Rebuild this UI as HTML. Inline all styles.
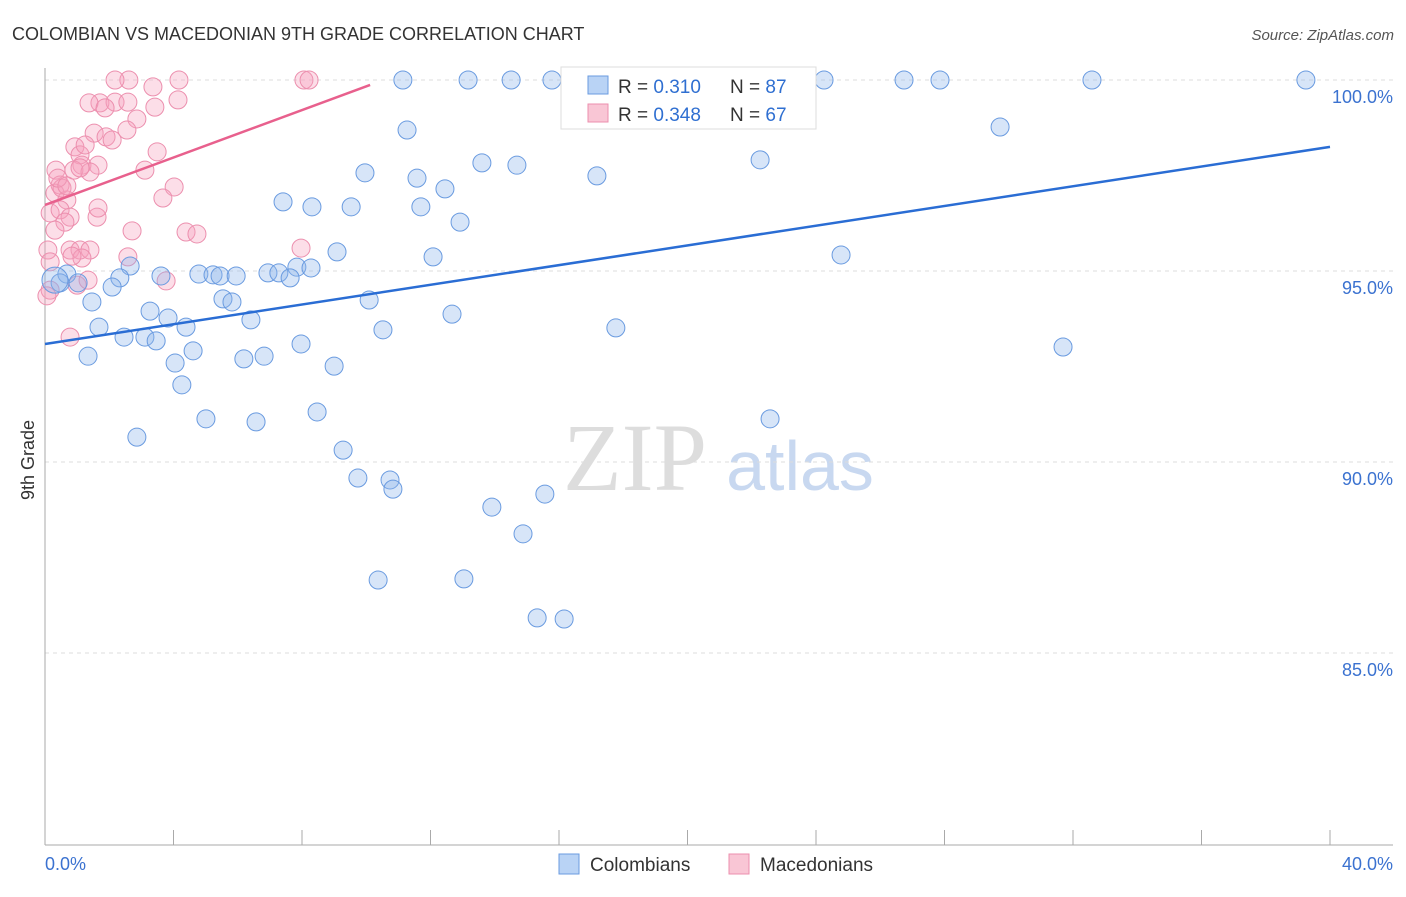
<!DOCTYPE html>
<html><head><meta charset="utf-8"><style>
body{margin:0;background:#fff;font-family:"Liberation Sans",sans-serif}
</style></head><body>
<svg width="1406" height="892" xmlns="http://www.w3.org/2000/svg">
<text x="12" y="40" font-size="18" fill="#333">COLOMBIAN VS MACEDONIAN 9TH GRADE CORRELATION CHART</text>
<text x="1394" y="40" font-size="15" fill="#555" text-anchor="end" font-style="italic">Source: ZipAtlas.com</text>
<text x="635" y="490" font-size="96" fill="#ddd" font-family="Liberation Serif,serif" text-anchor="middle">ZIP</text>
<text x="800" y="490" font-size="70" fill="#c8d8f0" text-anchor="middle">atlas</text>
<g id="grid"></g><g id="axes"></g><g id="pts"></g><g id="lines"></g>
<text x="34" y="460" font-size="18" fill="#333" transform="rotate(-90 34 460)" text-anchor="middle">9th Grade</text>
<g>
<rect x="561" y="67" width="255" height="62" fill="#fff" stroke="#ddd"/>
<rect x="588" y="76" width="20" height="18" fill="#b9d3f5" stroke="#6a9be0"/>
<rect x="588" y="104" width="20" height="18" fill="#f9c6d5" stroke="#ec8fae"/>
<text x="618" y="93" font-size="19" fill="#333">R = <tspan fill="#2f6fd1">0.310</tspan></text>
<text x="730" y="93" font-size="19" fill="#333">N = <tspan fill="#2f6fd1">87</tspan></text>
<text x="618" y="121" font-size="19" fill="#333">R = <tspan fill="#2f6fd1">0.348</tspan></text>
<text x="730" y="121" font-size="19" fill="#333">N = <tspan fill="#2f6fd1">67</tspan></text>
</g>
<g>
<rect x="559" y="854" width="20" height="20" fill="#b9d3f5" stroke="#6a9be0"/>
<text x="590" y="871" font-size="19" fill="#333">Colombians</text>
<rect x="729" y="854" width="20" height="20" fill="#f9c6d5" stroke="#ec8fae"/>
<text x="760" y="871" font-size="19" fill="#333">Macedonians</text>
</g>
</svg>
<script>
const blueX=[11.14,13.17,14.51,15.78,19.52,24.25,26.74,27.86,32.59,39.25,11.27,29.73,22.26,13.60,14.69,9.96,11.58,17.18,12.45,7.41,8.31,9.53,11.70,12.92,9.09,12.08,24.78,2.65,7.84,8.28,4.79,3.61,5.23,5.45,5.95,6.94,7.28,7.63,2.33,2.09,0.68,0.47,1.03,0.31,1.46,5.54,5.82,10.09,3.27,3.83,6.41,12.67,1.68,4.39,10.52,17.77,2.46,3.11,3.46,4.61,7.97,1.34,4.05,6.19,6.82,9.00,31.69,4.26,8.47,5.01,6.57,22.57,2.86,9.28,9.74,10.74,10.83,15.56,13.91,14.88,10.37,13.04,15.32,16.16];
const blueY=[100,100,100,100,100,100,100,100,100,100,98.69,98.77,97.91,97.83,97.77,97.57,97.43,97.49,97.15,96.81,96.68,96.68,96.68,96.28,95.50,95.37,95.42,95.13,95.10,95.08,94.92,94.87,94.90,94.87,94.87,94.95,94.95,94.82,94.82,94.58,94.92,94.69,94.69,94.76,94.19,94.27,94.19,94.24,93.95,93.77,93.72,93.87,93.53,93.53,93.46,93.51,93.27,93.27,93.17,92.91,93.09,92.77,92.59,92.70,92.77,92.51,93.01,92.02,91.31,91.13,91.05,91.13,90.65,90.31,89.58,89.53,89.29,89.16,88.82,88.12,86.91,86.94,85.92,85.89];
const pinkX=[2.61,3.36,4.17,8.06,8.22,2.18,1.71,1.37,2.18,1.87,3.42,4.14,2.86,1.53,1.90,2.55,2.09,3.49,0.93,1.09,1.25,1.15,0.90,1.65,1.40,1.09,3.11,0.34,0.47,0.31,0.68,4.02,3.67,0.16,0.47,0.78,0.62,1.62,1.65,4.39,4.73,2.71,0.09,0.78,1.09,1.40,2.58,1.15,7.97,0.84,0.16,3.77,1.00,1.34,0.16,0.06,0.78,0.53,0.40,0.68,0.31,2.58];
const pinkY=[100,99.82,100,100,100,100,99.40,99.40,99.42,99.27,99.29,99.48,98.98,98.61,98.51,98.69,98.43,98.12,98.25,98.04,98.30,97.77,97.64,97.77,97.59,97.70,97.64,97.64,97.25,97.04,96.86,97.20,96.91,96.52,96.60,96.41,96.28,96.41,96.65,96.02,95.97,96.05,95.55,95.55,95.55,95.55,95.37,95.34,95.60,95.39,95.24,94.74,94.63,94.76,94.50,94.35,93.27,97.17,97.43,97.23,96.07,99.42];
const blueLine=[93.09,98.25];
const pinkLine=[96.73,99.87,10.12];
const yTicks=[100,95,90,85];
const xTickLabels=["0.0%","40.0%"];
const NS="http://www.w3.org/2000/svg";
const sx=v=>45+v*32.125, sy=v=>80+(100-v)*38.2;
function mk(t,a,p){const e=document.createElementNS(NS,t);for(const k in a)e.setAttribute(k,a[k]);document.getElementById(p).appendChild(e);return e;}
yTicks.forEach(t=>{
 const l=mk('line',{x1:45,x2:1393,y1:sy(t),y2:sy(t),stroke:'#ddd','stroke-dasharray':'4,4'},'grid');
 
 
 const tx=mk('text',{x:1393,y:sy(t)+23,'font-size':18,fill:'#3b72d0','text-anchor':'end'},'grid');
 tx.textContent=t.toFixed(1)+'%';
 
 
});
const ax=mk('line',{x1:45,x2:45,y1:68,y2:845,stroke:'#aaa'},'axes');


const bx=mk('line',{x1:45,x2:1393,y1:845,y2:845,stroke:'#aaa'},'axes');


for(let i=0;i<=10;i++){const t=mk('line',{x1:sx(i*4),x2:sx(i*4),y1:830,y2:845,stroke:'#aaa'},'axes');
 
 }
[[0,'start'],[40,'end']].forEach((d,i)=>{const t=mk('text',{x:i?1393:45,y:870,'font-size':18,fill:'#3b72d0','text-anchor':d[1]},'axes');t.textContent=xTickLabels[i];
 
 });
pinkX.forEach((x,i)=>{const c=mk('circle',{cx:sx(x),cy:sy(pinkY[i]),r:9,fill:'rgba(245,160,190,0.35)',stroke:'#ec8fae','stroke-width':1},'pts');
 
 });
blueX.forEach((x,i)=>{const c=mk('circle',{cx:sx(x),cy:sy(blueY[i]),r:(i==43?13:9),fill:'rgba(140,180,235,0.35)',stroke:'#6a9be0','stroke-width':1},'pts');
 
 });
const bl=mk('line',{x1:sx(0),y1:sy(blueLine[0]),x2:sx(40),y2:sy(blueLine[1]),stroke:'#2a6dd4','stroke-width':2.5},'lines');


const pl=mk('line',{x1:sx(0),y1:sy(pinkLine[0]),x2:sx(pinkLine[2]),y2:sy(pinkLine[1]),stroke:'#e8608d','stroke-width':2.5},'lines');


</script>
</body></html>
